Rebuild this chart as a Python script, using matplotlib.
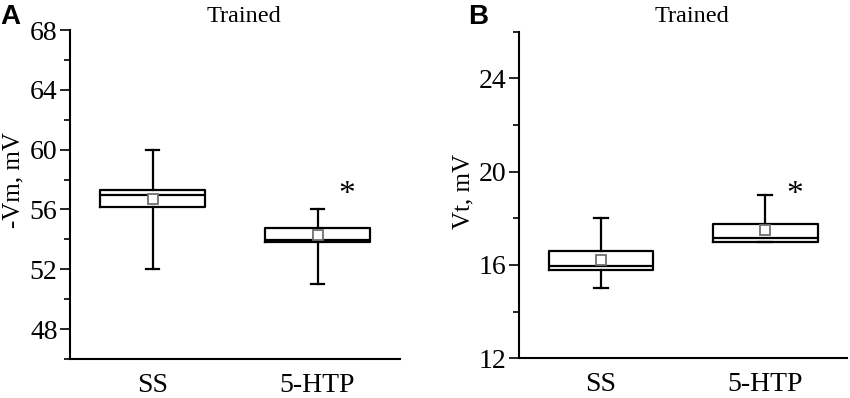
import matplotlib
matplotlib.use("Agg")
import matplotlib.pyplot as plt
from matplotlib.ticker import MultipleLocator

plt.rcParams['font.family'] = ['Liberation Serif', 'DejaVu Serif']

categories = ["SS", "5-HTP"]

# Panel A: -Vm, mV
a_whislo = [52.0, 51.0]
a_q1 = [56.15, 53.82]
a_med = [56.95, 53.96]
a_q3 = [57.33, 54.74]
a_whishi = [60.0, 56.0]
a_mean = [56.72, 54.31]

# Panel B: Vt, mV
b_whislo = [15.0, 17.0]
b_q1 = [15.79, 16.98]
b_med = [15.97, 17.17]
b_q3 = [16.6, 17.76]
b_whishi = [18.0, 19.0]
b_mean = [16.2, 17.48]

fig = plt.figure(figsize=(8.5, 3.98), dpi=100)

def make_stats(lo, q1, med, q3, hi, mean):
    return [dict(whislo=lo[i], q1=q1[i], med=med[i], q3=q3[i], whishi=hi[i],
                 mean=mean[i], label=categories[i]) for i in range(len(categories))]

def draw(ax, stats, ylim, ymajor, ylabel, star_y, title, letter, letter_x, lab_x, lab_y):
    lw = 1.6
    ax.bxp(stats, positions=[1, 2], widths=0.64, showmeans=True, showfliers=False,
           patch_artist=False, capwidths=0.08,
           boxprops=dict(color='black', linewidth=lw),
           medianprops=dict(color='black', linewidth=lw),
           whiskerprops=dict(color='black', linewidth=lw),
           capprops=dict(color='black', linewidth=lw),
           meanprops=dict(marker='s', markerfacecolor='white', markeredgecolor='#707070',
                          markersize=6.5, markeredgewidth=1.3))
    ax.set_xlim(0.5, 2.5)
    ax.set_ylim(*ylim)
    ax.yaxis.set_major_locator(MultipleLocator(ymajor))
    ax.yaxis.set_minor_locator(MultipleLocator(ymajor / 2))
    ax.spines['top'].set_visible(False)
    ax.spines['right'].set_visible(False)
    ax.spines['left'].set_linewidth(1.5)
    ax.spines['bottom'].set_linewidth(1.5)
    ax.tick_params(axis='y', which='major', direction='out', length=7, width=1.2, labelsize=20, pad=2)
    ax.tick_params(axis='y', which='minor', direction='out', length=4, width=1.2)
    ax.tick_params(axis='x', which='both', length=0, labelsize=20, pad=10)
    ax.set_xticks([1, 2])
    ax.set_xticklabels(categories)
    ax.set_ylabel(ylabel, fontsize=18, va='center')
    ax.yaxis.set_label_coords(lab_x, lab_y)
    ax.text(2.18, star_y, "*", ha='center', va='center', fontsize=24)
    bb = ax.get_position()
    fig.text(bb.x0 + 0.527 * bb.width, 1 - 22 / 398, title, ha='center', va='baseline', fontsize=17.5)
    fig.text(letter_x, 0.99, letter, ha='left', va='top', fontsize=20, fontweight='bold',
             family='Liberation Sans')

axA = fig.add_axes([0.0824, 0.098, 0.3882, 0.8266])
draw(axA, make_stats(a_whislo, a_q1, a_med, a_q3, a_whishi, a_mean), (46, 68), 4,
     "-Vm, mV", 57.0, "Trained", "A", 0.0, -0.172, 0.544)

axB = fig.add_axes([0.6106, 0.0998, 0.3859, 0.8206])
draw(axB, make_stats(b_whislo, b_q1, b_med, b_q3, b_whishi, b_mean), (12, 26), 4,
     "Vt, mV", 19.0, "Trained", "B", 0.551, -0.168, 0.51)

fig.savefig("out.png", dpi=100)
